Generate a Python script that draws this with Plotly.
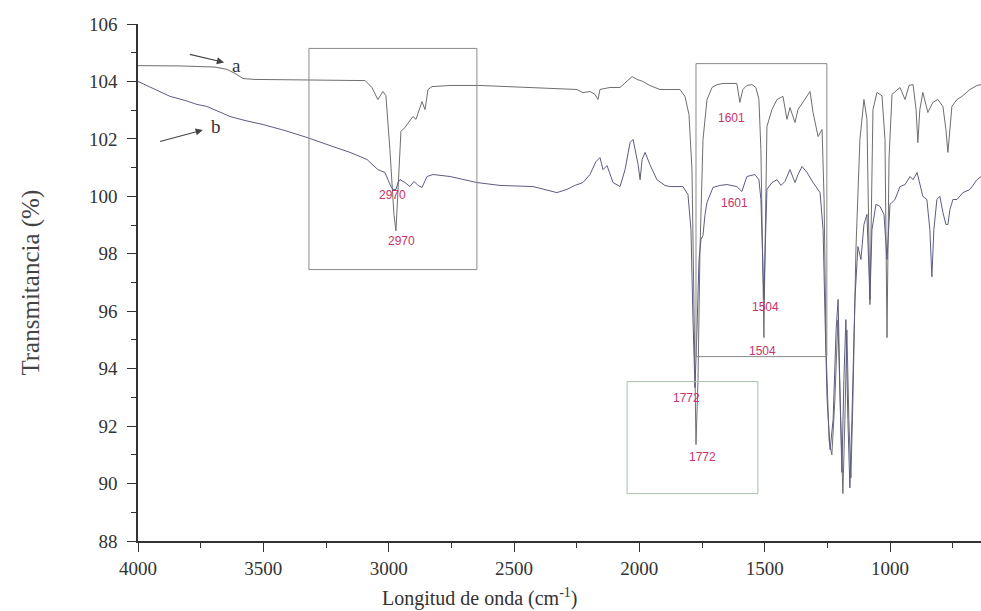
import plotly.graph_objects as go

# ---- data (wavenumber cm-1, transmittance %) ----
wn_a = [4000, 3832, 3693, 3645, 3613, 3581, 3533, 3354, 3094, 3067, 3043, 3023, 3011, 2995, 2979, 2971,
        2959, 2951, 2935, 2919, 2903, 2891, 2879, 2867, 2855, 2843, 2827, 2755, 2636, 2424, 2317, 2249,
        2225, 2197, 2177, 2165, 2157, 2117, 2077, 2049, 2029, 2009, 1986, 1958, 1918, 1878, 1838, 1818,
        1802, 1790, 1782, 1774, 1766, 1758, 1746, 1730, 1710, 1690, 1666, 1639, 1611, 1599, 1587, 1571,
        1551, 1535, 1523, 1515, 1507, 1503, 1499, 1491, 1471, 1451, 1427, 1411, 1399, 1379, 1367, 1347,
        1331, 1319, 1307, 1287, 1271, 1263, 1255, 1243, 1232, 1220, 1208, 1196, 1188, 1180, 1172, 1164,
        1156, 1148, 1136, 1120, 1104, 1092, 1080, 1068, 1052, 1032, 1020, 1012, 1004, 992, 960, 940,
        924, 908, 896, 889, 881, 869, 849, 829, 809, 789, 777, 769, 761, 753, 733, 713, 681, 653, 637]
t_a = [104.55, 104.54, 104.50, 104.42, 104.28, 104.10, 104.07, 104.05, 104.03, 103.79, 103.37, 103.65,
       103.51, 101.63, 99.37, 98.80, 100.93, 102.26, 102.40, 102.60, 102.78, 102.68, 103.03, 103.30,
       103.02, 103.72, 103.82, 103.86, 103.86, 103.79, 103.75, 103.72, 103.61, 103.65, 103.55, 103.37,
       103.72, 103.79, 103.79, 104.00, 104.17, 104.07, 104.00, 103.86, 103.72, 103.72, 103.72, 103.48,
       102.85, 100.93, 96.40, 91.36, 93.60, 98.15, 101.98, 103.37, 103.79, 103.89, 103.93, 103.93,
       103.93, 103.27, 103.72, 103.86, 103.89, 103.79, 103.37, 101.63, 96.40, 95.08, 97.80, 102.43,
       103.02, 103.37, 103.48, 102.68, 103.09, 102.57, 103.02, 103.30, 103.51, 103.65, 102.92, 102.08,
       102.33, 99.89, 94.67, 91.50, 91.00, 92.90, 95.70, 91.50, 89.65, 92.20, 95.35, 92.20,
       90.20, 92.90, 98.15, 101.98, 103.37, 102.68, 96.23, 103.02, 103.62, 103.50, 101.98, 95.08,
       101.30, 103.55, 103.79, 103.37, 103.86, 103.89, 103.02, 101.87, 103.02, 103.62, 102.92, 103.27,
       103.37, 103.13, 102.33, 101.53, 102.33, 103.13, 103.37, 103.48, 103.72, 103.86, 103.89]

wn_b = [4000, 3932, 3872, 3813, 3765, 3725, 3673, 3633, 3573, 3501, 3414, 3326, 3222, 3154, 3086, 3043,
        3015, 3003, 2991, 2983, 2971, 2963, 2955, 2935, 2915, 2899, 2883, 2867, 2855, 2847, 2823, 2755,
        2648, 2556, 2424, 2329, 2289, 2257, 2225, 2197, 2173, 2157, 2145, 2129, 2105, 2077, 2057, 2037,
        2025, 2013, 2005, 1997, 1989, 1977, 1958, 1930, 1898, 1878, 1826, 1806, 1794, 1786, 1778, 1770,
        1762, 1754, 1746, 1738, 1730, 1706, 1678, 1650, 1611, 1591, 1571, 1539, 1523, 1515, 1507, 1503,
        1499, 1491, 1471, 1451, 1435, 1419, 1399, 1379, 1367, 1351, 1331, 1307, 1279, 1267, 1259, 1251,
        1239, 1227, 1215, 1207, 1199, 1192, 1184, 1176, 1168, 1160, 1152, 1140, 1128, 1116, 1104, 1092,
        1080, 1072, 1056, 1040, 1024, 1012, 1000, 980, 960, 940, 920, 908, 892, 869, 853, 841,
        833, 825, 813, 801, 789, 777, 769, 761, 749, 733, 709, 681, 653, 637]
t_b = [104.00, 103.72, 103.48, 103.34, 103.20, 103.13, 102.92, 102.78, 102.64, 102.50, 102.29, 102.05,
       101.73, 101.53, 101.28, 100.93, 100.83, 100.58, 100.34, 100.24, 100.24, 100.48, 100.58, 100.48,
       100.34, 100.52, 100.38, 100.31, 100.58, 100.69, 100.76, 100.69, 100.48, 100.38, 100.34, 100.13,
       100.24, 100.38, 100.48, 100.76, 101.21, 101.35, 100.93, 101.07, 100.48, 100.34, 100.93, 101.87,
       101.98, 101.46, 101.11, 100.58, 101.28, 101.53, 101.11, 100.58, 100.38, 100.34, 100.34, 100.06,
       98.84, 95.71, 93.34, 95.36, 97.80, 98.50, 98.64, 99.37, 99.79, 100.31, 100.38, 100.41,
       100.34, 100.17, 100.69, 100.76, 100.58, 99.89, 97.10, 96.41, 97.80, 100.24, 100.48, 100.58,
       100.38, 100.52, 100.93, 100.48, 100.76, 101.04, 100.83, 100.48, 100.13, 98.84, 95.71, 92.93,
       91.18, 92.23, 95.36, 96.41, 92.93, 90.39, 93.62, 95.71, 92.23, 89.85, 92.23, 96.41,
       98.25, 97.80, 99.02, 99.37, 96.41, 98.84, 99.72, 99.65, 99.37, 97.80, 99.72, 99.89,
       100.34, 100.41, 100.69, 100.58, 100.83, 100.00, 99.89, 98.84, 97.20, 98.84, 99.89, 100.00,
       99.44, 99.02, 99.02, 99.54, 99.89, 99.89, 100.13, 100.24, 100.58, 100.69]

# peak labels: (text, wavenumber, transmittance)
peak_text = ["2970", "2970", "1601", "1601", "1504", "1504", "1772", "1772"]
peak_x = [2983, 2947, 1634, 1619, 1495, 1507, 1810, 1750]
peak_y = [100.03, 98.43, 102.74, 99.78, 96.13, 94.60, 92.99, 90.94]

# highlight boxes: x0, x1, y0, y1
box_x0 = [3318, 1774, 2049]
box_x1 = [2648, 1252, 1527]
box_y0 = [97.45, 94.42, 89.65]
box_y1 = [105.15, 104.62, 93.55]
box_col = ["#8a8a8a", "#8a8a8a", "#a9bfa9"]

# curve tags: letter, arrow tail (wavenumber, T), text offset (px)
tag_text = ["a", "b"]
tag_x = [3793, 3912]
tag_y = [104.94, 101.91]
tag_ax = [47, 56]
tag_ay = [11, -15]

x_ticks = [4000, 3500, 3000, 2500, 2000, 1500, 1000]
y_ticks = [88, 90, 92, 94, 96, 98, 100, 102, 104, 106]

serif = "Liberation Serif, Times New Roman, serif"

fig = go.Figure()
fig.add_trace(go.Scatter(x=wn_a, y=t_a, mode="lines", line=dict(color="#6e6e6e", width=1), showlegend=False))
fig.add_trace(go.Scatter(x=wn_b, y=t_b, mode="lines", line=dict(color="#5c5c82", width=1), showlegend=False))

for x0, x1, y0, y1, c in zip(box_x0, box_x1, box_y0, box_y1, box_col):
    fig.add_shape(type="rect", x0=x0, x1=x1, y0=y0, y1=y1, xref="x", yref="y",
                  line=dict(color=c, width=1), fillcolor="rgba(0,0,0,0)")

for t, x, y in zip(peak_text, peak_x, peak_y):
    fig.add_annotation(x=x, y=y, text=t, showarrow=False,
                       font=dict(family="Liberation Sans, Arial, sans-serif", size=12, color="#c8336a"))

# tags a / b with arrows pointing at the letter
for t, x, y, ax, ay in zip(tag_text, tag_x, tag_y, tag_ax, tag_ay):
    fig.add_annotation(x=x, y=y, ax=ax, ay=ay, text=t, showarrow=True, arrowside="start",
                       arrowhead=2, startarrowhead=2, arrowsize=1.2, startarrowsize=1.2, arrowwidth=1.2,
                       arrowcolor="#444", startstandoff=7,
                       font=dict(family=serif, size=19, color="#333"))

# axis titles
fig.add_annotation(xref="paper", yref="paper", x=-0.128, y=0.5, xanchor="center", yanchor="middle",
                   text="Transmitancia (%)", textangle=-90,
                   showarrow=False, font=dict(family=serif, size=25, color="#444"))
fig.add_annotation(xref="paper", yref="paper", x=0.4057, y=-0.110, xanchor="center", yanchor="middle",
                   text="Longitud de onda (cm<sup>-1</sup>)",
                   showarrow=False, font=dict(family=serif, size=20, color="#333"))

fig.update_layout(
    width=981, height=611,
    margin=dict(l=138, r=0, t=24, b=70),
    plot_bgcolor="white", paper_bgcolor="white",
    showlegend=False,
)
fig.update_xaxes(range=[4000, 637], tickvals=x_ticks, ticks="outside", ticklen=9, tickwidth=1.2,
                 tickcolor="#333", showline=True, linecolor="#333", linewidth=1.6, showgrid=False,
                 zeroline=False, tickfont=dict(family=serif, size=19, color="#333"),
                 minor=dict(dtick=250, ticks="outside", ticklen=5, tickcolor="#333", showgrid=False))
fig.update_yaxes(range=[88, 106], tickvals=y_ticks, ticks="outside", ticklen=9, tickwidth=1.2,
                 tickcolor="#333", showline=True, linecolor="#333", linewidth=1.6, showgrid=False,
                 zeroline=False, ticklabelstandoff=6, tickfont=dict(family=serif, size=19, color="#333"),
                 minor=dict(dtick=1, ticks="outside", ticklen=5, tickcolor="#333", showgrid=False))

fig.write_html("out.html")
